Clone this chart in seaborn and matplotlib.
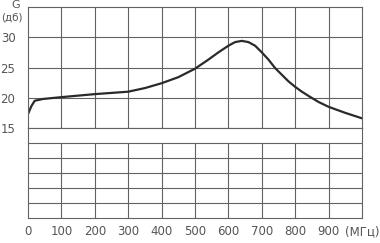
import matplotlib
matplotlib.use("Agg")
import matplotlib.pyplot as plt
import seaborn as sns
import pandas as pd

freq = [0, 10, 20, 45, 100, 150, 200, 250, 300, 350, 400, 450, 500, 540, 570, 600, 620, 640,
        660, 680, 700, 720, 740, 760, 780, 800, 820, 840, 870, 900, 950, 1000]
gain = [17.3, 18.6, 19.5, 19.8, 20.1, 20.35, 20.6, 20.8, 21.0, 21.6, 22.4, 23.4, 24.8, 26.3, 27.5, 28.6, 29.2, 29.4,
        29.2, 28.6, 27.5, 26.3, 24.9, 23.8, 22.7, 21.8, 21.0, 20.3, 19.3, 18.5, 17.5, 16.6]
x_ticks = [0, 100, 200, 300, 400, 500, 600, 700, 800, 900, 1000]
x_labels = ['0', '100', '200', '300', '400', '500', '600', '700', '800', '900', '(МГц)']
y_ticks = [15, 20, 25, 30]
y_labels = ['15', '20', '25', '30']

sns.set_style("white")
plt.rcParams['font.family'] = ['Liberation Sans Narrow', 'DejaVu Sans']

grid_c = '#626262'
text_c = '#555555'

fig = plt.figure(figsize=(3.8, 2.43), dpi=100)
W, H = 380, 243
left, right = 28, 362
ax = fig.add_axes([left / W, 1 - 128 / H, (right - left) / W, (128 - 7) / H])
ax2 = fig.add_axes([left / W, 1 - 218 / H, (right - left) / W, (218 - 128) / H])

df = pd.DataFrame({'f': freq, 'g': gain})
sns.lineplot(data=df, x='f', y='g', ax=ax, color='#2a2a2a', linewidth=1.6)

ax.set_xlim(0, 1000)
ax.set_ylim(15, 35)
for xv in x_ticks[1:-1]:
    ax.axvline(xv, color=grid_c, lw=0.8, zorder=0)
for yv in [20, 25, 30]:
    ax.axhline(yv, color=grid_c, lw=0.8, zorder=0)
ax.set_xticks([])
ax.set_yticks(y_ticks)
ax.set_yticklabels(y_labels)
ax.tick_params(axis='y', length=0, pad=9, labelsize=8.5, labelcolor=text_c)
ax.set_xlabel('')
ax.set_ylabel('')
for s in ax.spines.values():
    s.set_color(grid_c)
    s.set_linewidth(0.8)

ax2.set_xlim(0, 1000)
ax2.set_ylim(0, 6)
for xv in x_ticks[1:-1]:
    ax2.plot([xv, xv], [0, 5], color=grid_c, lw=0.8, zorder=0)
for yv in [1, 2, 3, 4, 5]:
    ax2.axhline(yv, color=grid_c, lw=0.8, zorder=0)
ax2.set_yticks([])
ax2.set_xticks(x_ticks)
ax2.set_xticklabels(x_labels)
ax2.tick_params(axis='x', length=0, pad=5, labelsize=8.5, labelcolor=text_c)
for s in ax2.spines.values():
    s.set_color(grid_c)
    s.set_linewidth(0.8)

fig.text(16 / W, 1 - 5 / H, 'G', ha='center', va='center', fontsize=8, color=text_c)
fig.text(12 / W, 1 - 17 / H, '(дб)', ha='center', va='center', fontsize=7.5, color=text_c)

fig.savefig('out.png', dpi=100)
